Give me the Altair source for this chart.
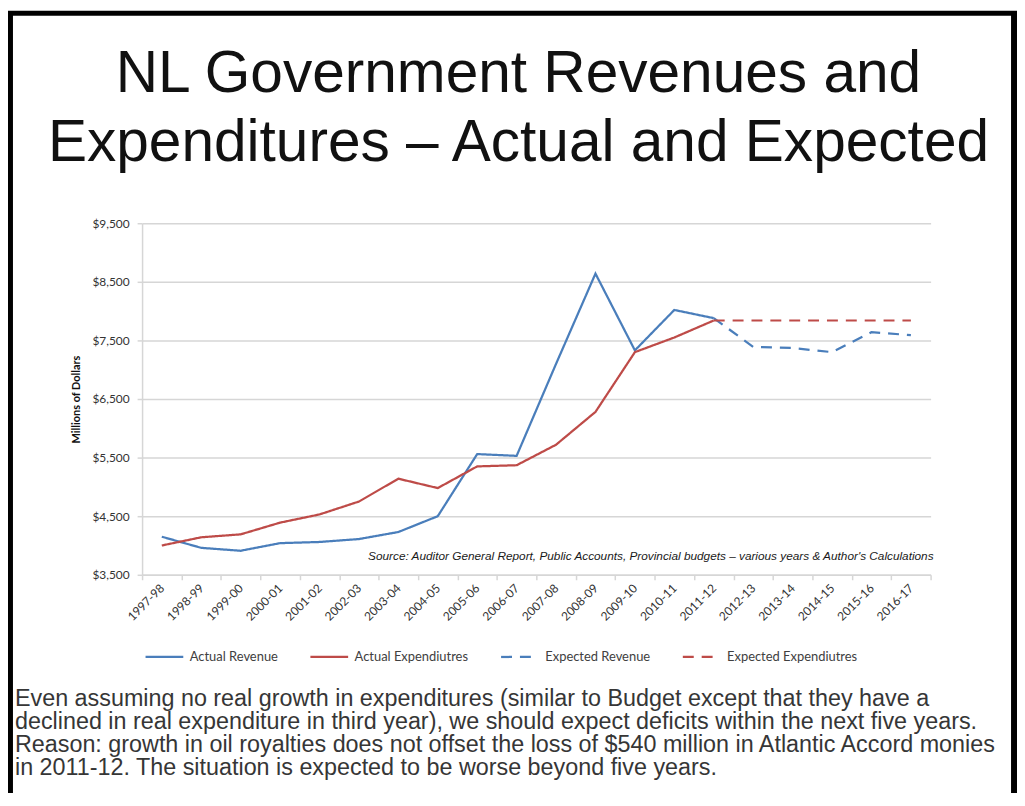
import altair as alt
import pandas as pd

# ---------------- data ----------------
categories = ["1997-98", "1998-99", "1999-00", "2000-01", "2001-02", "2002-03",
              "2003-04", "2004-05", "2005-06", "2006-07", "2007-08", "2008-09",
              "2009-10", "2010-11", "2011-12", "2012-13", "2013-14", "2014-15",
              "2015-16", "2016-17"]

actual_years = ["1997-98", "1998-99", "1999-00", "2000-01", "2001-02", "2002-03",
                "2003-04", "2004-05", "2005-06", "2006-07", "2007-08", "2008-09",
                "2009-10", "2010-11", "2011-12"]
actual_revenue = [4150, 3960, 3910, 4040, 4060, 4110, 4230, 4500, 5560, 5530,
                  7100, 8640, 7330, 8020, 7880]
actual_expenditures = [4000, 4140, 4190, 4390, 4530, 4750, 5140, 4980, 5350, 5370,
                       5720, 6280, 7300, 7550, 7840]

expected_years = ["2011-12", "2012-13", "2013-14", "2014-15", "2015-16", "2016-17"]
expected_revenue = [7880, 7390, 7370, 7300, 7640, 7590]
expected_expenditures = [7840, 7840, 7840, 7840, 7840, 7840]

series_names = ["Actual Revenue", "Actual Expendiutres",
                "Expected Revenue", "Expected Expendiutres"]
series_colors = ["#4A7EBB", "#BE4B48", "#4A7EBB", "#BE4B48"]
series_dashes = [[1, 0], [1, 0], [11, 8], [11, 8]]

y_ticks = [3500, 4500, 5500, 6500, 7500, 8500, 9500]

title_lines = ["NL Government Revenues and", "Expenditures \u2013 Actual and Expected"]
source_text = ("Source: Auditor General Report, Public Accounts, Provincial budgets "
               "\u2013 various years & Author's Calculations")
note_lines = [
    "Even assuming no real growth in expenditures (similar to Budget except that they have a",
    "declined in real expenditure in third year), we should expect deficits within the next five years.",
    "Reason: growth in oil royalties does not offset the loss of $540 million in Atlantic Accord monies",
    "in 2011-12.  The situation is expected to be worse beyond five years.",
]

# ---------------- table ----------------
rows = []
for yr, v in zip(actual_years, actual_revenue):
    rows.append({"year": yr, "value": v, "series": series_names[0]})
for yr, v in zip(actual_years, actual_expenditures):
    rows.append({"year": yr, "value": v, "series": series_names[1]})
for yr, v in zip(expected_years, expected_revenue):
    rows.append({"year": yr, "value": v, "series": series_names[2]})
for yr, v in zip(expected_years, expected_expenditures):
    rows.append({"year": yr, "value": v, "series": series_names[3]})
df = pd.DataFrame(rows)

GRID = "#D6D6D6"
LABEL = "#333333"

legend = alt.Legend(
    title=None, orient="none", legendX=2, legendY=416,
    direction="horizontal", columns=4,
    symbolType="stroke", symbolSize=1444, symbolStrokeWidth=2.25,
    labelFont="Lato", labelFontSize=13, labelColor="#404040",
    labelOffset=5, columnPadding=28, labelLimit=0,
)

lines = alt.Chart(df).mark_line(strokeWidth=2.25).encode(
    x=alt.X(
        "year:N",
        sort=categories,
        bandPosition=0.5,
        scale=alt.Scale(type="band", domain=categories, paddingInner=0, paddingOuter=0),
        axis=alt.Axis(
            title=None, labelAngle=-45, labelAlign="right", labelBaseline="middle",
            labelFont="Lato", labelFontSize=12, labelColor=LABEL, labelPadding=6,
            labelOverlap=False, tickBand="extent", tickSize=5, tickColor=GRID,
            tickWidth=1.5, domainColor=GRID, domainWidth=1.5, grid=False,
        ),
    ),
    y=alt.Y(
        "value:Q",
        scale=alt.Scale(domain=[3500, 9500], nice=False, zero=False),
        axis=alt.Axis(
            title="Millions of Dollars", titleFont="Lato", titleFontSize=11,
            titleFontWeight="bold", titleColor="#111111", titleX=-66, titleY=177,
            titleAngle=270, titleAlign="center", titleBaseline="middle",
            values=y_ticks, format="$,.0f",
            labelFont="Lato", labelFontSize=12, labelColor=LABEL, labelPadding=8,
            tickSize=5, tickColor=GRID, tickWidth=1.5,
            domainColor=GRID, domainWidth=1.5,
            gridColor=GRID, gridWidth=1.5,
        ),
    ),
    color=alt.Color("series:N", scale=alt.Scale(domain=series_names, range=series_colors),
                    legend=legend),
    strokeDash=alt.StrokeDash("series:N",
                              scale=alt.Scale(domain=series_names, range=series_dashes),
                              legend=legend),
)

source = alt.Chart(pd.DataFrame({"t": [source_text]})).mark_text(
    align="right", baseline="middle", font="Liberation Sans", fontStyle="italic",
    fontSize=11.9, color="#1a1a1a",
).encode(text="t:N", x=alt.value(797), y=alt.value(335))

note = alt.Chart(pd.DataFrame({"t": ["\n".join(note_lines)]})).mark_text(
    align="left", baseline="alphabetic", lineBreak="\n", lineHeight=23.3,
    font="Liberation Sans", fontSize=23.5, color="#363636",
).encode(text="t:N", x=alt.value(-128), y=alt.value(486))

one = pd.DataFrame({"k": [0]})
frame_left = alt.Chart(one).mark_rule(color="black", strokeWidth=5).encode(
    x=alt.value(-132.5), y=alt.value(-211.5), y2=alt.value(575))
frame_top = alt.Chart(one).mark_rule(color="black", strokeWidth=5).encode(
    x=alt.value(-135), x2=alt.value(881), y=alt.value(-211.5))
frame_right = alt.Chart(one).mark_rule(color="black", strokeWidth=6).encode(
    x=alt.value(878), y=alt.value(-211.5), y2=alt.value(575))

chart = alt.layer(lines, source, note, frame_left, frame_top, frame_right).properties(
    width=794,
    height=354,
    padding={"left": 135, "top": 214, "right": 87, "bottom": 217},
    autosize=alt.AutoSizeParams(type="none"),
    background="white",
    title=alt.Title(
        text=title_lines, font="Liberation Sans", fontSize=59, fontWeight="normal",
        color="#111111", lineHeight=70, baseline="top", anchor="middle",
        frame="group", dx=-18, offset=-164,
    ),
).configure_view(stroke=None)

chart.save("out.html", embed_options={"renderer": "svg", "actions": False})
